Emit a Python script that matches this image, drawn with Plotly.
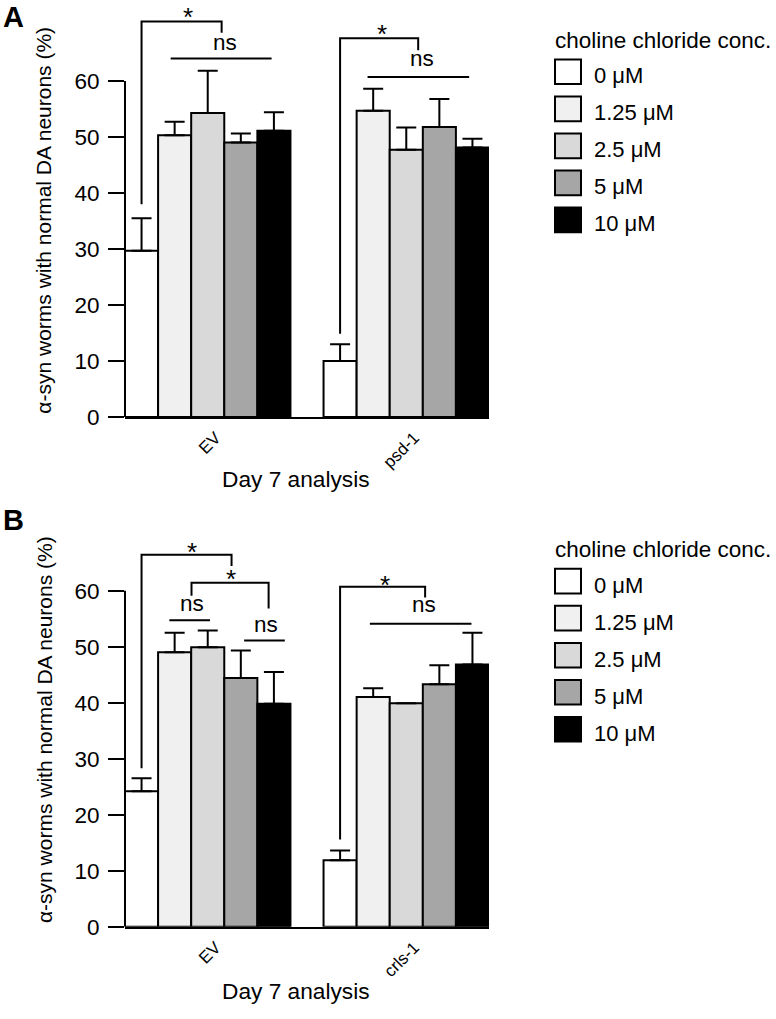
import plotly.graph_objects as go

W, H = 776, 1019

# ---------------- data ----------------
conc_labels = ["0 μM", "1.25 μM", "2.5 μM", "5 μM", "10 μM"]
bar_colors = ["#ffffff", "#f0f0f0", "#d9d9d9", "#a6a6a6", "#000000"]

groups_a = ["EV", "psd-1"]
ev_a_mean = [29.7, 50.3, 54.3, 49.0, 51.1]
ev_a_sem = [5.8, 2.4, 7.5, 1.6, 3.3]
psd1_mean = [10.0, 54.7, 47.7, 51.8, 48.1]
psd1_sem = [3.0, 3.9, 4.0, 5.0, 1.6]

groups_b = ["EV", "crls-1"]
ev_b_mean = [24.2, 49.0, 49.9, 44.4, 39.8]
ev_b_sem = [2.3, 3.5, 3.0, 4.9, 5.7]
crls1_mean = [11.9, 41.0, 39.9, 43.3, 46.8]
crls1_sem = [1.7, 1.6, 0.0, 3.4, 5.7]

y_ticks = [0, 10, 20, 30, 40, 50, 60]
y_title = "α-syn worms with normal DA neurons (%)"
x_title = "Day 7 analysis"
legend_title = "choline chloride conc."
panel_labels = ["A", "B"]

# significance marks: polyline in bar-index units (bar i of group g -> 6*g + i), label, label position
sig_a = [
    ([(0, 38.0), (0, 70.6), (2.42, 70.6), (2.42, 68.6)], "*", (1.39, 72.4)),
    ([(0.88, 64.0), (3.93, 64.0)], "ns", (2.52, 66.5)),
    ([(6, 14.9), (6, 67.6), (8.36, 67.6), (8.36, 65.5)], "*", (7.27, 69.5)),
    ([(6.83, 60.7), (9.9, 60.7)], "ns", (8.49, 63.6)),
]
sig_b = [
    ([(0, 28.3), (0, 66.4), (2.72, 66.4), (2.72, 64.4)], "*", (1.51, 67.9)),
    ([(1.51, 59.1), (1.51, 61.4), (3.84, 61.4), (3.84, 56.8)], "*", (2.70, 63.2)),
    ([(0.84, 54.7), (2.07, 54.7)], "ns", (1.51, 57.3)),
    ([(3.1, 51.1), (4.33, 51.1)], "ns", (3.75, 53.6)),
    ([(6.0, 15.6), (6.0, 60.7), (8.57, 60.7), (8.57, 58.8)], "*", (7.35, 62.1)),
    ([(6.9, 54.1), (9.97, 54.1)], "ns", (8.53, 57.1)),
]

# ---------------- layout geometry ----------------
FONT = "Liberation Sans, Arial, sans-serif"
N = len(conc_labels)
BARGAP = 1.0 / (N + 1)           # gap between groups equals one bar width
BW = (1 - BARGAP) / N


def ux(u):
    # bar-index units -> axis units
    return (u - (N - 1) / 2) * BW


def px2x(px):
    return px / W


def py2y(py):
    return 1 - py / H


YMAX = 73
UNIT_PX = 5.675
xdom = [px2x(125), px2x(489)]
panels = [
    dict(groups=groups_a, means=[ev_a_mean, psd1_mean], sems=[ev_a_sem, psd1_sem],
         xa="x", ya="y", zero_px=422.5, sig=sig_a,
         ytitle_py=223.5, xtitle_py=485, label_py=17, leg_py=40.7),
    dict(groups=groups_b, means=[ev_b_mean, crls1_mean], sems=[ev_b_sem, crls1_sem],
         xa="x2", ya="y2", zero_px=938.8, sig=sig_b,
         ytitle_py=739.5, xtitle_py=1004, label_py=527, leg_py=556.7),
]

fig = go.Figure()
shapes = []
annotations = []

for pi, p in enumerate(panels):
    for i, (lab, col) in enumerate(zip(conc_labels, bar_colors)):
        fig.add_trace(go.Bar(
            x=list(range(len(p["groups"]))),
            y=[m[i] for m in p["means"]],
            error_y=dict(type="data", array=[s[i] for s in p["sems"]],
                         arrayminus=[0] * len(p["groups"]), symmetric=False,
                         color="black", thickness=2, width=10),
            marker=dict(color=col, line=dict(color="black", width=2)),
            name=lab, showlegend=False, xaxis=p["xa"], yaxis=p["ya"],
        ))

    top_px = p["zero_px"] - YMAX * UNIT_PX
    ydom = [py2y(p["zero_px"]), py2y(top_px)]
    sfx = "" if pi == 0 else "2"
    fig.update_layout(**{
        "xaxis" + sfx: dict(domain=xdom, anchor="y" + sfx,
                            range=[-0.5 + BARGAP / 2, len(p["groups"]) - 0.5 - BARGAP / 2],
                            tickvals=list(range(len(p["groups"]))), ticktext=p["groups"],
                            tickangle=-45, ticks="", showline=True, linecolor="black",
                            linewidth=2, showgrid=False, zeroline=False,
                            ticklabelshift=8, ticklabelstandoff=2,
                            tickfont=dict(size=17, family=FONT, color="black")),
        "yaxis" + sfx: dict(domain=ydom, anchor="x" + sfx, range=[0, YMAX],
                            tickvals=y_ticks, ticks="outside", ticklen=16, tickwidth=2,
                            tickcolor="black", showline=False, showgrid=False,
                            zeroline=False, ticklabelstandoff=4,
                            tickfont=dict(size=22.5, family=FONT, color="black")),
    })

    # y axis line only from 0 to 60
    shapes.append(dict(type="line", xref="x" + sfx + " domain", yref="y" + sfx,
                       x0=0, x1=0, y0=y_ticks[0], y1=y_ticks[-1],
                       line=dict(color="black", width=2)))

    # significance brackets
    for pts, lab, (lx, ly) in p["sig"]:
        path = "M " + " L ".join(f"{ux(u)},{v}" for u, v in pts)
        shapes.append(dict(type="path", xref="x" + sfx, yref="y" + sfx, path=path,
                           line=dict(color="black", width=2)))
        star = lab == "*"
        annotations.append(dict(x=ux(lx), y=ly, xref="x" + sfx, yref="y" + sfx,
                                text=lab, showarrow=False, xanchor="center", yanchor="middle",
                                yshift=-6 if star else 2,
                                font=dict(size=26 if star else 22.5, family=FONT, color="black")))

    # axis titles
    annotations.append(dict(x=px2x(44), y=py2y(p["ytitle_py"]), xref="paper", yref="paper",
                            text=y_title, textangle=-90, showarrow=False,
                            xanchor="center", yanchor="middle",
                            font=dict(size=21, family=FONT, color="black")))
    annotations.append(dict(x=px2x(296), y=py2y(p["xtitle_py"]), xref="paper", yref="paper",
                            text=x_title, showarrow=False, xanchor="center", yanchor="middle",
                            font=dict(size=22.7, family=FONT, color="black")))
    # panel label
    annotations.append(dict(x=px2x(13), y=py2y(p["label_py"]), xref="paper", yref="paper",
                            text=f"<b>{panel_labels[pi]}</b>", showarrow=False,
                            xanchor="center", yanchor="middle",
                            font=dict(size=29, family=FONT, color="black")))

    # legend
    leg_top = p["leg_py"]
    annotations.append(dict(x=px2x(553), y=py2y(leg_top), xref="paper", yref="paper",
                            text=legend_title, showarrow=False, xanchor="left", yanchor="middle",
                            font=dict(size=22.5, family=FONT, color="black")))
    for i, (lab, col) in enumerate(zip(conc_labels, bar_colors)):
        cy = leg_top + 32 + 37.5 * i
        shapes.append(dict(type="rect", xref="paper", yref="paper",
                           x0=px2x(555), x1=px2x(581), y0=py2y(cy - 12.5), y1=py2y(cy + 12.5),
                           fillcolor=col, line=dict(color="black", width=2)))
        annotations.append(dict(x=px2x(592), y=py2y(cy + 4), xref="paper", yref="paper",
                                text=lab, showarrow=False, xanchor="left", yanchor="middle",
                                font=dict(size=22, family=FONT, color="black")))

fig.update_layout(
    width=W, height=H, autosize=False,
    margin=dict(l=0, r=0, t=0, b=0),
    paper_bgcolor="white", plot_bgcolor="white",
    barmode="group", bargap=BARGAP, bargroupgap=0,
    showlegend=False,
    font=dict(family=FONT, color="black"),
    shapes=shapes, annotations=annotations,
)

fig.write_html("out.html", config={"displayModeBar": False, "staticPlot": True},
               post_script="document.body.style.margin='0px';document.body.style.overflow='hidden';")
